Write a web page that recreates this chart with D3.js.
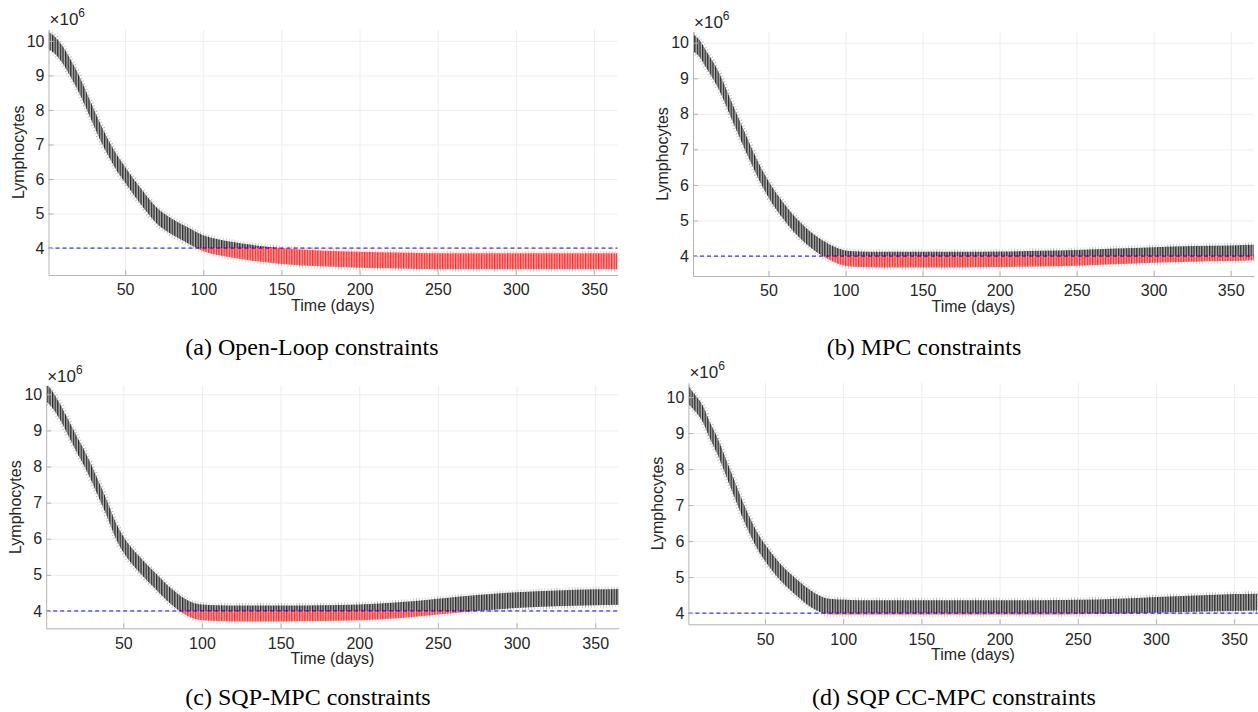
<!DOCTYPE html>
<html>
<head>
<meta charset="utf-8">
<script src="https://cdn.jsdelivr.net/npm/d3@7"></script>
<style>
  body { margin: 0; background: #fff; }
  svg { display: block; }
</style>
</head>
<body>
<div id="chart"></div>
<script>
const days = [1, 5, 10, 15, 20, 25, 30, 35, 40, 45, 50, 60, 70, 80, 90, 100, 110, 120, 130, 150, 175, 200, 225, 250, 275, 300, 325, 350, 365];

// lymphocytes (x1e6), lower / upper edge of the dense band
const openLoopLo = [9.75, 9.63, 9.35, 8.97, 8.55, 8.06, 7.54, 7.04, 6.61, 6.22, 5.89, 5.27, 4.72, 4.39, 4.14, 3.91, 3.79, 3.71, 3.64, 3.54, 3.47, 3.43, 3.41, 3.39, 3.39, 3.39, 3.39, 3.39, 3.39];
const openLoopHi = [10.25, 10.13, 9.85, 9.47, 9.05, 8.54, 8.02, 7.52, 7.07, 6.68, 6.35, 5.73, 5.18, 4.85, 4.60, 4.37, 4.25, 4.17, 4.10, 4.00, 3.93, 3.89, 3.87, 3.85, 3.85, 3.85, 3.85, 3.85, 3.85];

const mpcLo = [9.76, 9.61, 9.26, 8.91, 8.48, 7.96, 7.46, 6.96, 6.49, 6.04, 5.65, 5.02, 4.52, 4.15, 3.88, 3.72, 3.69, 3.68, 3.68, 3.68, 3.68, 3.69, 3.71, 3.73, 3.77, 3.81, 3.84, 3.86, 3.88];
const mpcHi = [10.24, 10.09, 9.74, 9.39, 8.96, 8.44, 7.94, 7.44, 6.95, 6.50, 6.11, 5.48, 4.98, 4.59, 4.32, 4.16, 4.13, 4.12, 4.12, 4.12, 4.12, 4.13, 4.15, 4.17, 4.21, 4.25, 4.28, 4.30, 4.32];

const sqpLo = [9.80, 9.62, 9.28, 8.86, 8.43, 8.03, 7.58, 7.08, 6.58, 6.03, 5.63, 5.08, 4.63, 4.20, 3.88, 3.74, 3.72, 3.71, 3.71, 3.71, 3.72, 3.74, 3.80, 3.90, 4.00, 4.08, 4.13, 4.16, 4.17];
const sqpHi = [10.30, 10.08, 9.72, 9.30, 8.87, 8.47, 8.02, 7.52, 7.02, 6.47, 6.07, 5.52, 5.07, 4.64, 4.32, 4.18, 4.16, 4.15, 4.15, 4.15, 4.16, 4.18, 4.24, 4.34, 4.44, 4.52, 4.57, 4.60, 4.61];

const ccLo = [9.80, 9.62, 9.32, 8.82, 8.37, 7.82, 7.27, 6.72, 6.22, 5.79, 5.45, 4.90, 4.49, 4.15, 3.97, 3.96, 3.96, 3.96, 3.96, 3.96, 3.96, 3.96, 3.96, 3.97, 3.98, 4.01, 4.04, 4.06, 4.07];
const ccHi = [10.30, 10.08, 9.78, 9.28, 8.83, 8.28, 7.73, 7.18, 6.68, 6.25, 5.91, 5.36, 4.95, 4.61, 4.41, 4.38, 4.36, 4.36, 4.36, 4.36, 4.36, 4.36, 4.36, 4.37, 4.40, 4.45, 4.49, 4.53, 4.54];

const xTicks = [50, 100, 150, 200, 250, 300, 350];
const yTicks = [4, 5, 6, 7, 8, 9, 10];
const limit = 4;
const captions = ["(a) Open-Loop constraints", "(b) MPC constraints", "(c) SQP-MPC constraints", "(d) SQP CC-MPC constraints"];

// layout of the four axes (pixels)
const panels = [
    {lo: openLoopLo, hi: openLoopHi, xr: [48.5, 617.5], yr: [275, 29.5], yd: [3.22, 10.33], cap: [312, 355]},
    {lo: mpcLo, hi: mpcHi, xr: [693, 1253.8], yr: [276, 32], yd: [3.44, 10.3], cap: [924, 355]},
    {lo: sqpLo, hi: sqpHi, xr: [46.2, 618.8], yr: [628.3, 386], yd: [3.52, 10.23], cap: [308, 705]},
    {lo: ccLo, hi: ccHi, xr: [688.4, 1257.6], yr: [624.3, 382.7], yd: [3.69, 10.4], cap: [954, 705]}
];

const sans = "'Liberation Sans', Arial, Helvetica, sans-serif";
const serif = "'Liberation Serif', 'Times New Roman', serif";

const svg = d3.select("#chart")
    .append("svg")
    .attr("width", 1258)
    .attr("height", 712);

const defs = svg.append("defs");

// vertical streaks, one per simulated day
function stripes(id, bg, fg) {
    const p = defs.append("pattern")
        .attr("id", id)
        .attr("patternUnits", "userSpaceOnUse")
        .attr("width", 2.6)
        .attr("height", 10);
    p.append("rect").attr("width", 2.6).attr("height", 10).attr("fill", bg);
    p.append("rect").attr("width", 1.3).attr("height", 10).attr("fill", fg);
}
stripes("stripeK", "#b4b4b4", "#2a2a2a");
stripes("stripeR", "#ffa8a8", "#ff2a2a");

panels.forEach((p, i) => {
    const x = d3.scaleLinear().domain([1, 365]).range(p.xr);
    const y = d3.scaleLinear().domain(p.yd).range(p.yr);
    const h = p.yr[0] - p.yr[1];
    const w = p.xr[1] - p.xr[0];
    const g = svg.append("g");

    // grid
    g.append("g")
        .attr("transform", `translate(0,${p.yr[0]})`)
        .call(d3.axisBottom(x).tickValues(xTicks).tickSize(-h).tickFormat(""))
        .call(a => a.select(".domain").remove())
        .selectAll("line").attr("stroke", "#ededed");
    g.append("g")
        .attr("transform", `translate(${p.xr[0]},0)`)
        .call(d3.axisLeft(y).tickValues(yTicks).tickSize(-w).tickFormat(""))
        .call(a => a.select(".domain").remove())
        .selectAll("line").attr("stroke", "#ededed");

    // clip above / below the 4e6 constraint
    const yl = y(limit);
    defs.append("clipPath").attr("id", `above${i}`)
        .append("rect")
        .attr("x", p.xr[0]).attr("y", p.yr[1])
        .attr("width", w).attr("height", yl - p.yr[1]);
    defs.append("clipPath").attr("id", `below${i}`)
        .append("rect")
        .attr("x", p.xr[0]).attr("y", yl)
        .attr("width", w).attr("height", p.yr[0] - yl);

    const band = days.map((d, j) => ({day: d, lo: p.lo[j], hi: p.hi[j]}));
    const area = d3.area()
        .x(d => x(d.day))
        .y0(d => y(d.lo))
        .y1(d => y(d.hi))
        .curve(d3.curveMonotoneX);

    [["above", "stripeK"], ["below", "stripeR"]].forEach(([clip, pat]) => {
        const layer = g.append("g").attr("clip-path", `url(#${clip}${i})`);
        // sparse outliers round the dense band
        layer.append("path")
            .datum(band)
            .attr("d", area)
            .attr("fill", "none")
            .attr("stroke", `url(#${pat})`)
            .attr("stroke-width", 5)
            .attr("stroke-dasharray", "1,2")
            .attr("stroke-opacity", 0.35);
        layer.append("path")
            .datum(band)
            .attr("d", area)
            .attr("fill", `url(#${pat})`);
    });

    // constraint line
    g.append("line")
        .attr("x1", p.xr[0]).attr("x2", p.xr[1])
        .attr("y1", yl).attr("y2", yl)
        .attr("stroke", "#0000ff")
        .attr("stroke-width", 1)
        .attr("stroke-dasharray", "4,3");

    // axes
    const ax = g.append("g")
        .attr("transform", `translate(0,${p.yr[0]})`)
        .call(d3.axisBottom(x).tickValues(xTicks).tickFormat(d3.format("d"))
            .tickSizeInner(-5).tickSizeOuter(0).tickPadding(9));
    const ay = g.append("g")
        .attr("transform", `translate(${p.xr[0]},0)`)
        .call(d3.axisLeft(y).tickValues(yTicks).tickFormat(d3.format("d"))
            .tickSizeInner(-5).tickSizeOuter(0).tickPadding(4));
    [ax, ay].forEach(a => {
        a.select(".domain").attr("stroke", "#b3b3b3");
        a.selectAll(".tick line").attr("stroke", "#b3b3b3");
        a.selectAll("text")
            .style("font-family", sans)
            .style("font-size", "16px")
            .attr("fill", "#262626");
    });

    // exponent
    const ex = g.append("text")
        .attr("x", p.xr[0] + 1)
        .attr("y", p.yr[1] - 4.5)
        .style("font-family", sans)
        .style("font-size", "17px")
        .attr("fill", "#262626");
    ex.append("tspan").text("×10");
    ex.append("tspan").attr("dy", -8).style("font-size", "12px").text("6");

    // axis titles
    g.append("text")
        .attr("x", (p.xr[0] + p.xr[1]) / 2)
        .attr("y", p.yr[0] + 36)
        .attr("text-anchor", "middle")
        .style("font-family", sans)
        .style("font-size", "16px")
        .attr("fill", "#262626")
        .text("Time (days)");
    g.append("text")
        .attr("transform", `translate(${p.xr[0] - 25},${(p.yr[0] + p.yr[1]) / 2}) rotate(-90)`)
        .attr("text-anchor", "middle")
        .style("font-family", sans)
        .style("font-size", "16px")
        .attr("fill", "#262626")
        .text("Lymphocytes");

    // caption
    svg.append("text")
        .attr("x", p.cap[0])
        .attr("y", p.cap[1])
        .attr("text-anchor", "middle")
        .style("font-family", serif)
        .style("font-size", "24px")
        .attr("fill", "#000")
        .text(captions[i]);
});
</script>
</body>
</html>
